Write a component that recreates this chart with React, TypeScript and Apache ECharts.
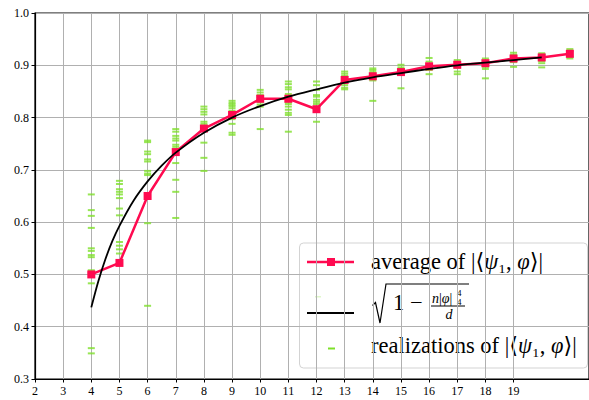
import React, { useEffect, useRef } from "react";
import * as echarts from "echarts";

// ---------- data ----------
const xTicks = [2, 3, 4, 5, 6, 7, 8, 9, 10, 11, 12, 13, 14, 15, 16, 17, 18, 19];
const yTicks = [0.3, 0.4, 0.5, 0.6, 0.7, 0.8, 0.9, 1.0];

const dims = [4, 5, 6, 7, 8, 9, 10, 11, 12, 13, 14, 15, 16, 17, 18, 19, 20, 21];
const averages = [0.5, 0.522, 0.65, 0.734, 0.779, 0.805, 0.836, 0.836, 0.816, 0.872, 0.879, 0.887, 0.898, 0.901, 0.904, 0.913, 0.915, 0.922];

const curveX = [4, 4.25, 4.5, 4.75, 5, 5.5, 6, 6.5, 7, 8, 9, 10, 11, 12, 13, 14, 15, 16, 17, 18, 19, 20];
const curveY = [0.437, 0.487, 0.529, 0.564, 0.593, 0.641, 0.678, 0.708, 0.733, 0.771, 0.8, 0.822, 0.84, 0.854, 0.867, 0.877, 0.885, 0.893, 0.9, 0.905, 0.91, 0.915];

const real4 = [0.653, 0.623, 0.612, 0.589, 0.55, 0.545, 0.537, 0.533, 0.508, 0.503, 0.483, 0.359, 0.349];
const real5 = [0.679, 0.673, 0.663, 0.658, 0.653, 0.646, 0.626, 0.613, 0.562, 0.555, 0.548, 0.54];
const real6 = [0.756, 0.753, 0.735, 0.73, 0.72, 0.716, 0.698, 0.693, 0.69, 0.598, 0.44];
const real7 = [0.778, 0.773, 0.765, 0.76, 0.756, 0.748, 0.744, 0.739, 0.713, 0.681, 0.658, 0.608];
const real8 = [0.821, 0.816, 0.811, 0.806, 0.792, 0.788, 0.752, 0.723, 0.698];
const real9 = [0.832, 0.828, 0.825, 0.822, 0.818, 0.813, 0.808, 0.8, 0.797, 0.788, 0.771, 0.767];
const real10 = [0.853, 0.848, 0.843, 0.839, 0.83, 0.825, 0.821, 0.778];
const real11 = [0.869, 0.864, 0.858, 0.854, 0.845, 0.84, 0.83, 0.826, 0.821, 0.815, 0.809, 0.805, 0.773];
const real12 = [0.869, 0.862, 0.853, 0.843, 0.84, 0.834, 0.83, 0.826, 0.792];
const real13 = [0.888, 0.884, 0.88, 0.871, 0.862, 0.857, 0.854];
const real14 = [0.894, 0.891, 0.887, 0.875, 0.871, 0.832];
const real15 = [0.901, 0.896, 0.893, 0.883, 0.856];
const real16 = [0.914, 0.907, 0.891, 0.883];
const real17 = [0.91, 0.906, 0.895, 0.888, 0.883];
const real18 = [0.913, 0.908, 0.897, 0.893, 0.875];
const real19 = [0.924, 0.92, 0.91, 0.906, 0.897];
const real20 = [0.923, 0.92, 0.908, 0.904, 0.896];
const real21 = [0.931, 0.927, 0.916, 0.913];

const realizationColumns: [number, number[]][] = [
  [4, real4], [5, real5], [6, real6], [7, real7], [8, real8], [9, real9],
  [10, real10], [11, real11], [12, real12], [13, real13], [14, real14], [15, real15],
  [16, real16], [17, real17], [18, real18], [19, real19], [20, real20], [21, real21],
];

// ---------- styles ----------
const SERIF = "'Liberation Serif', 'DejaVu Serif', serif";
const RED = "#ff0a50";
const GREEN = "#7ee02a";
const GRID = "#b0b0b0";
const LEGEND_FS = 22.5;

export default function App() {
  const ref = useRef<HTMLDivElement>(null);

  useEffect(() => {
    if (!ref.current) return;
    const chart = echarts.init(ref.current, null, { renderer: "svg" });

    const scatterData: [number, number][] = [];
    realizationColumns.forEach(([d, vals]) => vals.forEach((v) => scatterData.push([d, v])));

    const tok = (extra: any) => ({ fontFamily: SERIF, fontSize: LEGEND_FS, fill: "#000", color: "#000", ...extra });
    const mathRich = {
      i: tok({ fontStyle: "italic" }),
      n: tok({}),
    };

    const option: any = {
      animation: false,
      backgroundColor: "#fff",
      grid: {
        left: 35,
        top: 13,
        right: -3,
        bottom: 21,
        show: true,
        borderColor: "#000",
        borderWidth: 1.2,
        backgroundColor: "transparent",
      },
      xAxis: {
        type: "value",
        min: 2,
        max: 21.68,
        interval: 1,
        axisLine: { show: true, onZero: false, lineStyle: { color: "#000", width: 1.2 } },
        axisTick: { show: true, inside: false, length: 3.5, lineStyle: { color: "#000" }, customValues: xTicks },
        axisLabel: { customValues: xTicks, margin: 6, fontFamily: SERIF, fontSize: 12, color: "#000" },
        splitLine: { show: true, lineStyle: { color: GRID, width: 1 } },
      },
      yAxis: {
        type: "value",
        min: 0.3,
        max: 1.0,
        interval: 0.1,
        axisLine: { show: true, onZero: false, lineStyle: { color: "#000", width: 1.2 } },
        axisTick: { show: true, inside: false, length: 3.5, lineStyle: { color: "#000" } },
        axisLabel: {
          margin: 6,
          fontFamily: SERIF,
          fontSize: 12,
          color: "#000",
          formatter: (v: number) => (yTicks.some((t) => Math.abs(t - v) < 1e-6) ? v.toFixed(1) : ""),
        },
        splitLine: { show: true, lineStyle: { color: GRID, width: 1 } },
      },
      series: [
        {
          name: "realizations",
          type: "scatter",
          data: scatterData,
          symbol: "rect",
          symbolSize: [7, 2],
          itemStyle: { color: GREEN },
          z: 2,
        },
        {
          name: "average",
          type: "line",
          data: dims.map((d, i) => [d, averages[i]]),
          symbol: "rect",
          symbolSize: 8,
          showSymbol: true,
          lineStyle: { color: RED, width: 2.5 },
          itemStyle: { color: RED },
          z: 3,
        },
        {
          name: "theory",
          type: "line",
          data: curveX.map((x, i) => [x, curveY[i]]),
          smooth: 0.3,
          symbol: "none",
          lineStyle: { color: "#000", width: 1.8 },
          z: 4,
        },
      ],
      graphic: [
        {
          type: "group",
          z: 100,
          children: [
            {
              type: "rect",
              shape: { x: 299.5, y: 243, width: 288, height: 125, r: 4 },
              style: { fill: "rgba(255,255,255,0.8)", stroke: "#d3d3d3", lineWidth: 1 },
            },
            // entry 1
            { type: "line", shape: { x1: 307, y1: 262, x2: 354, y2: 262 }, style: { stroke: RED, lineWidth: 2.5 } },
            { type: "rect", shape: { x: 327, y: 258, width: 8, height: 8 }, style: { fill: RED } },
            {
              type: "text",
              x: 371,
              y: 261,
              style: {
                text: "{n|average of |⟨}{i|ψ}{n|₁, }{i|φ}{n|⟩|}",
                rich: mathRich,
                fontFamily: SERIF,
                fontSize: LEGEND_FS,
                fill: "#000",
                verticalAlign: "middle",
              },
            },
            // entry 2
            { type: "rect", shape: { x: 315, y: 296, width: 6, height: 1.5 }, style: { fill: GREEN, opacity: 0.25 } },
            { type: "line", shape: { x1: 307, y1: 313, x2: 354, y2: 313 }, style: { stroke: "#000", lineWidth: 1.8 } },
            {
              type: "polyline",
              shape: { points: [[372.5, 305.5], [375.5, 302.5], [380, 323], [386, 284], [469, 284]] },
              style: { stroke: "#000", lineWidth: 1.2, fill: "none" },
            },
            {
              type: "text",
              x: 393,
              y: 302,
              style: { text: "1 −", fontFamily: SERIF, fontSize: LEGEND_FS, fill: "#000", verticalAlign: "middle" },
            },
            {
              type: "text",
              x: 432,
              y: 298,
              style: {
                text: "{i|n}{n||}{i|φ}{n||}",
                rich: {
                  i: { fontFamily: SERIF, fontSize: 14, fontStyle: "italic", fill: "#000" },
                  n: { fontFamily: SERIF, fontSize: 14, fill: "#000" },
                },
                fontFamily: SERIF,
                fontSize: 14,
                fill: "#000",
                verticalAlign: "middle",
              },
            },
            {
              type: "text",
              x: 457,
              y: 293,
              style: { text: "4", fontFamily: SERIF, fontSize: 9, fill: "#000", verticalAlign: "middle" },
            },
            {
              type: "text",
              x: 457,
              y: 302,
              style: { text: "4", fontFamily: SERIF, fontSize: 9, fill: "#000", verticalAlign: "middle" },
            },
            { type: "line", shape: { x1: 431, y1: 306, x2: 465, y2: 306 }, style: { stroke: "#000", lineWidth: 1 } },
            {
              type: "text",
              x: 449,
              y: 314,
              style: {
                text: "d",
                fontFamily: SERIF,
                fontSize: 14,
                fontStyle: "italic",
                fill: "#000",
                align: "center",
                verticalAlign: "middle",
              },
            },
            // entry 3
            { type: "rect", shape: { x: 328, y: 347.5, width: 7, height: 2 }, style: { fill: GREEN } },
            {
              type: "text",
              x: 371,
              y: 345,
              style: {
                text: "{n|realizations of |⟨}{i|ψ}{n|₁, }{i|φ}{n|⟩|}",
                rich: mathRich,
                fontFamily: SERIF,
                fontSize: LEGEND_FS,
                fill: "#000",
                verticalAlign: "middle",
              },
            },
          ],
        },
      ],
    };

    chart.setOption(option);
    return () => chart.dispose();
  }, []);

  return (
    <div
      ref={ref}
      style={{ position: "fixed", left: 0, top: 0, width: 589, height: 400, background: "#fff" }}
    />
  );
}
